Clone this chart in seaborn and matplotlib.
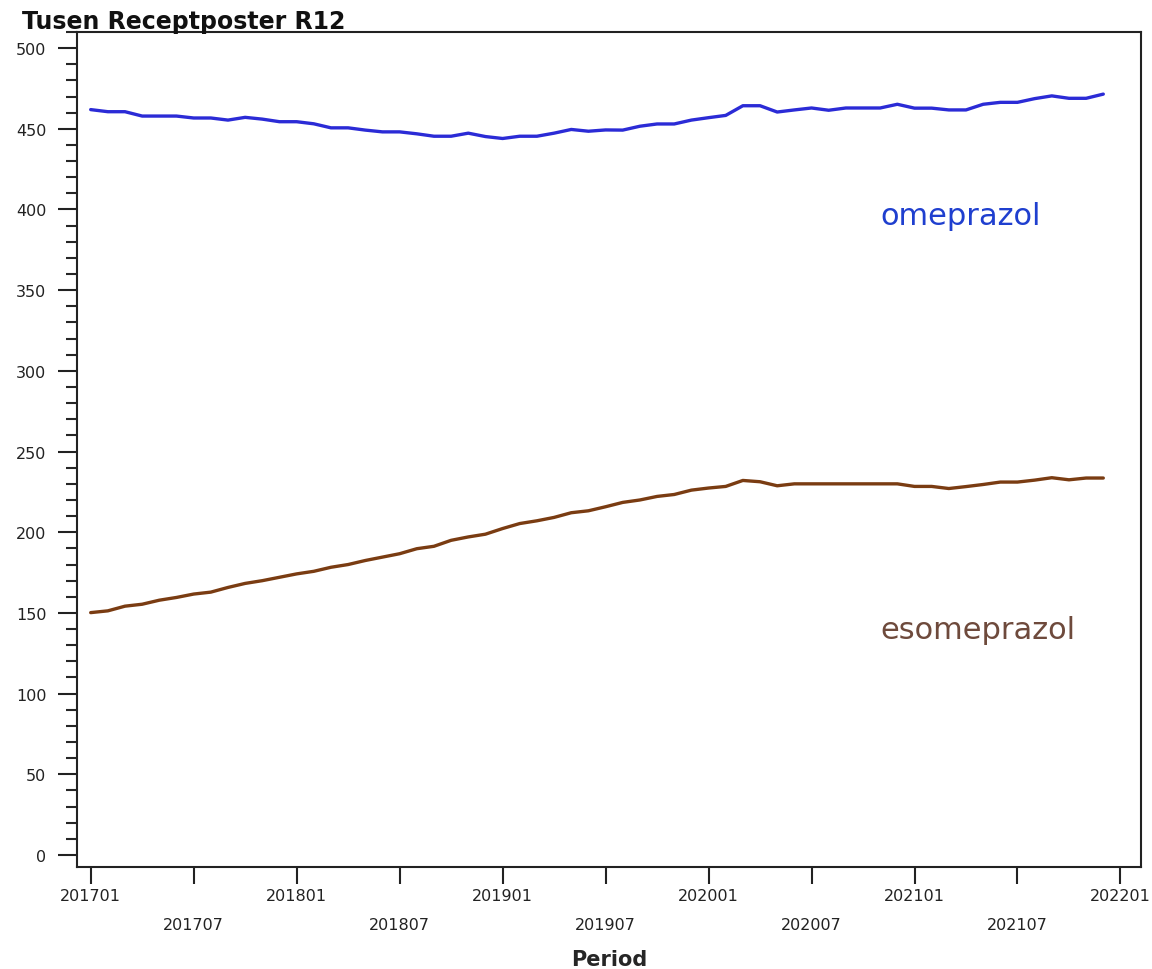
import numpy as np
import pandas as pd
import seaborn as sns
import matplotlib.pyplot as plt
from matplotlib.ticker import MultipleLocator

sns.set_style("white")
plt.rcParams['font.family'] = ['DejaVu Sans']

# monthly periods 201701 .. 202112
years = [2017, 2018, 2019, 2020, 2021]
periods = ["{}{:02d}".format(y, m) for y in years for m in range(1, 13)]

omeprazol = [461.9, 460.6, 460.6, 457.9, 457.9, 457.9, 456.7, 456.7, 455.4, 457.1,
             456.0, 454.4, 454.4, 453.1, 450.6, 450.6, 449.2, 448.1, 448.1, 446.9,
             445.4, 445.4, 447.3, 445.2, 444.0, 445.4, 445.4, 447.3, 449.6, 448.5,
             449.3, 449.2, 451.6, 453.0, 453.0, 455.4, 456.9, 458.3, 464.3, 464.3,
             460.4, 461.7, 462.9, 461.5, 462.9, 462.9, 462.9, 465.2, 462.8, 462.8,
             461.7, 461.7, 465.2, 466.4, 466.4, 468.7, 470.4, 468.9, 468.9, 471.5]

esomeprazol = [150.2, 151.3, 154.2, 155.4, 157.9, 159.6, 161.7, 162.9, 165.8, 168.3,
               170.0, 172.1, 174.2, 175.8, 178.3, 180.0, 182.5, 184.6, 186.7, 189.8,
               191.3, 195.0, 197.1, 198.8, 202.3, 205.4, 207.1, 209.2, 212.1, 213.3,
               215.8, 218.5, 220.0, 222.2, 223.4, 226.1, 227.4, 228.4, 232.1, 231.3,
               228.8, 230.0, 230.0, 230.0, 230.0, 230.0, 230.0, 230.0, 228.4, 228.4,
               227.1, 228.3, 229.6, 231.1, 231.1, 232.3, 233.8, 232.5, 233.6, 233.6]

tick_labels = ["201701", "201707", "201801", "201807", "201901", "201907",
               "202001", "202007", "202101", "202107", "202201"]

idx = np.arange(len(periods))
df = pd.DataFrame({
    "month": np.concatenate([idx, idx]),
    "value": omeprazol + esomeprazol,
    "drug": ["omeprazol"] * len(idx) + ["esomeprazol"] * len(idx),
})

fig = plt.figure(figsize=(11.52, 9.7), dpi=100)
ax = fig.add_axes([0.0668, 0.1052, 0.9237, 0.8608])

sns.lineplot(data=df, x="month", y="value", hue="drug",
             palette={"omeprazol": "#2b2bd6", "esomeprazol": "#7a3c12"},
             linewidth=2.4, legend=False, ax=ax)

ax.set_xlim(-0.8, 61.2)
ax.set_ylim(-7.4, 510)

# x ticks every 6 months, alternating two rows
ax.set_xticks(np.arange(0, 61, 6))
ax.set_xticklabels([t if i % 2 == 0 else "\n" + t for i, t in enumerate(tick_labels)],
                   fontsize=11.5, linespacing=2.2)
ax.set_yticks(np.arange(0, 501, 50))
ax.yaxis.set_minor_locator(MultipleLocator(10))
ax.tick_params(axis="x", which="major", direction="out", length=12, width=1.5,
               pad=3, bottom=True)
ax.tick_params(axis="y", which="major", direction="out", length=14, width=1.5,
               labelsize=11.5, pad=8, left=True)
ax.tick_params(axis="y", which="minor", direction="out", length=8, width=1.5, left=True)
ax.tick_params(colors="#222222")

for s in ax.spines.values():
    s.set_color("#222222")
    s.set_linewidth(1.5)

ax.set_xlabel("Period", fontsize=15, fontweight="bold", labelpad=12)
ax.set_ylabel("")

fig.text(0.019, 0.977, "Tusen Receptposter R12", fontsize=17, fontweight="bold",
         va="center", ha="left", color="#111111")

ax.text(0.755, 0.78, "omeprazol", transform=ax.transAxes, fontsize=22,
        color="#1f3fcf", va="center", ha="left")
ax.text(0.755, 0.284, "esomeprazol", transform=ax.transAxes, fontsize=22,
        color="#6e4a3c", va="center", ha="left")

fig.savefig("out.png", dpi=100)
